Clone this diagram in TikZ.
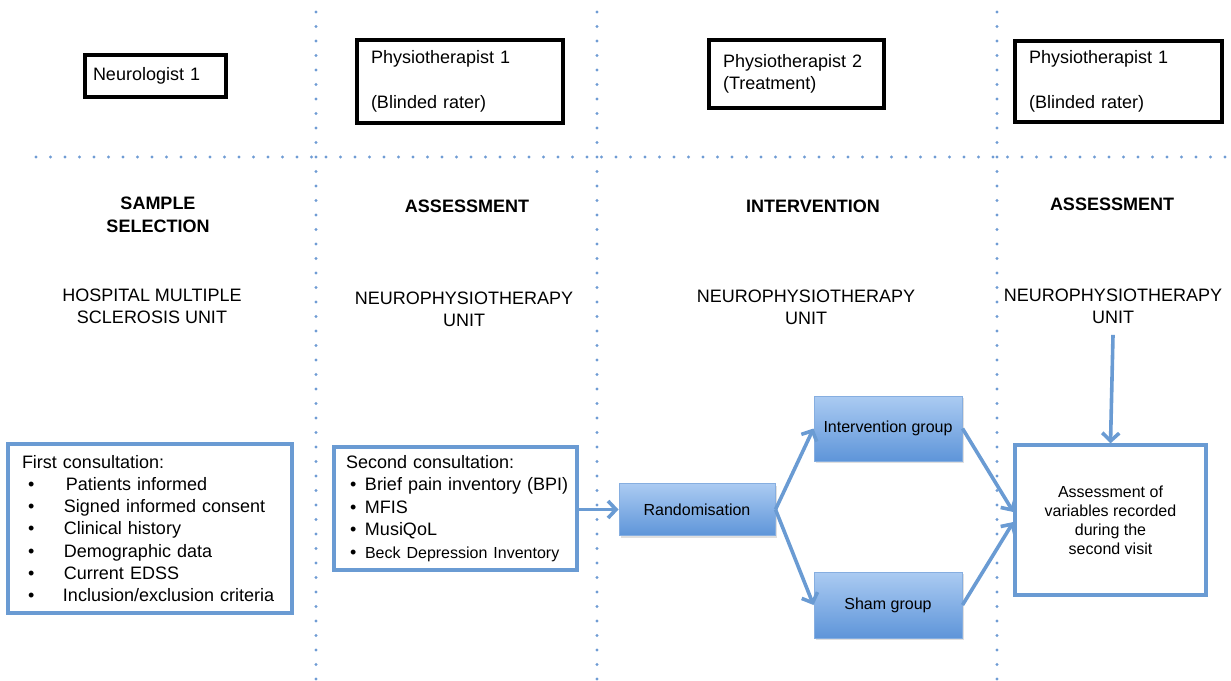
\documentclass[tikz,border=0pt]{standalone}
\usepackage{fontspec}
\setmainfont{Liberation Sans}
\usetikzlibrary{arrows.meta,shadows}
\definecolor{dotblue}{HTML}{6F9CD4}
\definecolor{lineblue}{HTML}{6A9BD3}
\definecolor{boxtop}{HTML}{ABCBF2}
\definecolor{boxbot}{HTML}{5E95D9}
\definecolor{boxrim}{HTML}{86AEE0}
\tikzset{
  guide/.style={dotblue, line width=3.4pt, dash pattern=on 0pt off 14.5pt, line cap=round},
  rolebox/.style={draw=black, line width=3.4pt, inner xsep=14pt, align=left,
    font=\fontsize{18}{22}\selectfont},
  phase/.style={align=center, font=\bfseries\fontsize{18}{23}\selectfont},
  place/.style={align=center, font=\fontsize{18}{22}\selectfont},
  infobox/.style={draw=lineblue, line width=3.2pt, fill=white, align=left, inner xsep=13pt},
  groupbox/.style={draw=boxrim, line width=1pt, top color=boxtop, bottom color=boxbot,
    drop shadow={opacity=0.25, shadow xshift=1.5pt, shadow yshift=-2pt},
    font=\fontsize{16}{19}\selectfont},
  flow/.style={lineblue, line width=3.6pt, -{Straight Barb[length=8pt,width=17pt]}}
}
\newcommand{\itm}[2]{\mbox{\makebox[#1][l]{\textbullet}#2}}
\begin{document}
\begin{tikzpicture}[x=1pt,y=-1pt]
    \useasboundingbox (0,0) rectangle (1231,680);

    % Dotted guides
    \foreach \x in {316,597,997}
        \draw[guide] (\x,12) -- (\x,680);
    \draw[guide] (36,157) -- (1231,157);

    % Staff boxes
    \node[rolebox, inner xsep=8pt, text width=125pt, minimum height=42pt] (neuro) at (155.5,76) {Neurologist 1};
    \node[rolebox, text width=178pt, minimum height=83pt] (physA) at (460,81.5)
        {Physiotherapist 1\\[23pt](Blinded rater)};
    \node[rolebox, text width=147pt, minimum height=68pt] (physB) at (796.5,74)
        {Physiotherapist 2\\(Treatment)};
    \node[rolebox, text width=179pt, minimum height=81pt] (physC) at (1118.5,81.5)
        {Physiotherapist 1\\[23pt](Blinded rater)};

    % Phases
    \node[phase] (ph1) at (158,214.5) {SAMPLE\\SELECTION};
    \node[phase] (ph2) at (467,206) {ASSESSMENT};
    \node[phase] (ph3) at (813,206) {INTERVENTION};
    \node[phase] (ph4) at (1112,204) {ASSESSMENT};

    % Places
    \node[place] (unit1) at (152,306) {HOSPITAL MULTIPLE\\SCLEROSIS UNIT};
    \node[place] (unit2) at (464,309.5) {NEUROPHYSIOTHERAPY\\UNIT};
    \node[place] (unit3) at (806,307) {NEUROPHYSIOTHERAPY\\UNIT};
    \node[place] (unit4) at (1113,306) {NEUROPHYSIOTHERAPY\\UNIT};

    % Consultations
    \node[infobox, inner xsep=14pt, text width=256pt, minimum height=169pt,
        font=\fontsize{18}{22.3}\selectfont] (first) at (150,528.5)
        {First consultation:\\
         \hspace*{6pt}\itm{38pt}{Patients informed}\\
         \hspace*{6pt}\itm{36pt}{Signed informed consent}\\
         \hspace*{6pt}\itm{36pt}{Clinical history}\\
         \hspace*{6pt}\itm{36pt}{Demographic data}\\
         \hspace*{6pt}\itm{36pt}{Current EDSS}\\
         \hspace*{6pt}\itm{35pt}{Inclusion/exclusion criteria}};
    \node[infobox, inner xsep=9pt, text width=225pt, minimum height=123pt,
        font=\fontsize{18}{22.5}\selectfont] (second) at (455.5,508.5)
        {\hspace*{3pt}Second consultation:\\
         \hspace*{7pt}\itm{15pt}{Brief pain inventory (BPI)}\\
         \hspace*{7pt}\itm{15pt}{MFIS}\\
         \hspace*{7pt}\itm{15pt}{MusiQoL}\\
         \hspace*{7pt}\itm{15pt}{\fontsize{16}{22.5}\selectfont Beck Depression Inventory}};

    % Groups
    \node[groupbox, minimum width=156pt, minimum height=52pt] (rand) at (697,509.5) {Randomisation};
    \node[groupbox, minimum width=148pt, minimum height=65pt] (igroup) at (888,428.5) {Intervention group};
    \node[groupbox, minimum width=148pt, minimum height=66pt] (sgroup) at (888,605) {Sham group};

    % Final assessment
    \node[infobox, minimum width=191pt, minimum height=150pt, align=center,
        font=\fontsize{16}{19}\selectfont] (assess) at (1110.5,520)
        {Assessment of\\variables recorded\\during the\\second visit};

    % Arrows
    \draw[flow] (second.east |- rand.west) -- (rand.west);
    \draw[flow] (rand.east) -- (igroup.west);
    \draw[flow] (rand.east) -- (sgroup.west);
    \draw[flow] (igroup.east) -- ([yshift=8pt]assess.west);
    \draw[flow] (sgroup.east) -- ([yshift=-2pt]assess.west);
    \draw[flow] ([yshift=-8pt]unit4.south) -- (assess.north);
\end{tikzpicture}
\end{document}
